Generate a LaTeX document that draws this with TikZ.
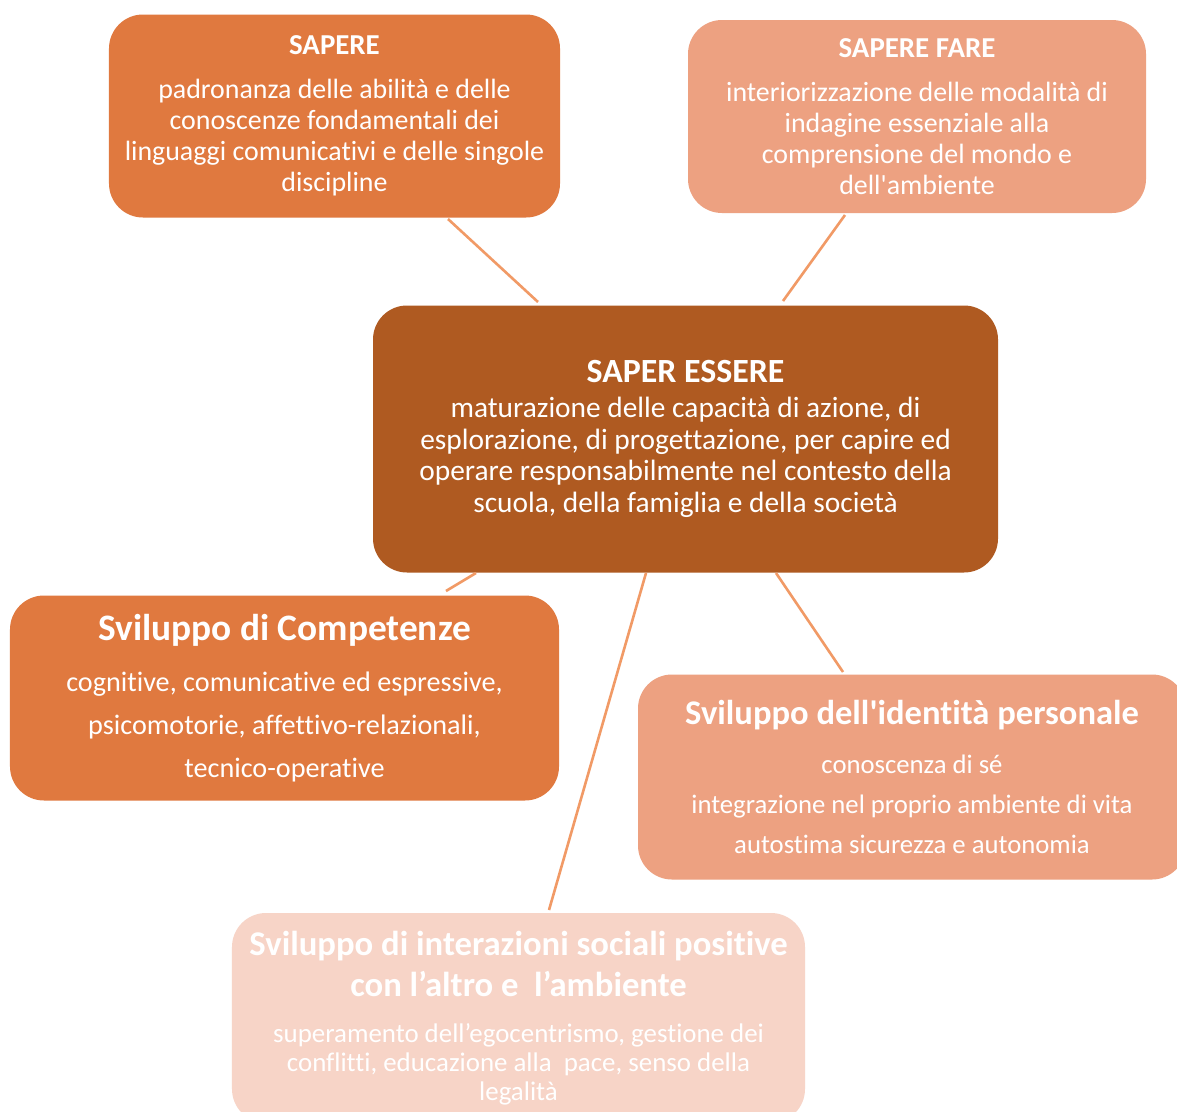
\documentclass[tikz,border=0pt]{standalone}
\usepackage{fontspec}
\setmainfont{Carlito}[Ligatures={NoCommon,TeXOff}]
\definecolor{cOrange}{HTML}{E0793F}
\definecolor{cSalmon}{HTML}{EDA181}
\definecolor{cBrown}{HTML}{AF5A21}
\definecolor{cPale}{HTML}{F7D4C7}
\definecolor{cLine}{HTML}{F19A66}
\tikzset{
  mybox/.style={rounded corners=34bp, draw=none, text=white, align=center, inner sep=0pt},
  link/.style={draw=cLine, line width=2.6bp}
}
\begin{document}
\begin{tikzpicture}[x=1bp,y=-1bp]
\clip (0,0) rectangle (1177,1112);
\fill[white] (0,0) rectangle (1177,1112);
% boxes
\node[mybox, fill=cOrange, minimum width=451bp, minimum height=203bp,
  font=\fontsize{28}{31}\selectfont] (sapere) at (334.5,116)
  {{\fontsize{29}{31}\selectfont\bfseries SAPERE}\\[13bp]
   padronanza delle abilità e delle\\
   conoscenze fondamentali dei\\
   linguaggi comunicativi e delle singole\\
   discipline};
\node[mybox, fill=cSalmon, minimum width=458bp, minimum height=193bp,
  font=\fontsize{28}{31}\selectfont] (fare) at (917,116.5)
  {{\fontsize{29}{31}\selectfont\bfseries SAPERE FARE}\\[13bp]
   interiorizzazione delle modalità di\\
   indagine essenziale alla\\
   comprensione del mondo e\\
   dell'ambiente};
\node[mybox, fill=cBrown, minimum width=625bp, minimum height=267bp,
  font=\fontsize{29.5}{32}\selectfont] (essere) at (685.5,439)
  {{\fontsize{34}{32}\selectfont\bfseries SAPER ESSERE}\\[3bp]
   maturazione delle capacità di azione, di\\
   esplorazione, di progettazione, per capire ed\\
   operare responsabilmente nel contesto della\\
   scuola, della famiglia e della società};
\node[mybox, fill=cOrange, minimum width=549bp, minimum height=205bp,
  font=\fontsize{28.3}{43}\selectfont] (comp) at (284.5,698)
  {{\fontsize{37.5}{43}\selectfont\bfseries Sviluppo di Competenze}\\[8bp]
   cognitive, comunicative ed espressive,\\
   psicomotorie, affettivo-relazionali,\\
   tecnico-operative};
\node[mybox, fill=cSalmon, minimum width=548bp, minimum height=205bp,
  font=\fontsize{26.8}{40.5}\selectfont] (ident) at (912,777)
  {{\fontsize{34.7}{40}\selectfont\bfseries Sviluppo dell'identità personale}\\[8.5bp]
   conoscenza di sé\\
   integrazione nel proprio ambiente di vita\\
   autostima sicurezza e autonomia};
\node[mybox, fill=cPale, minimum width=573bp, minimum height=210bp,
  font=\fontsize{27}{29}\selectfont] (inter) at (518.5,1018)
  {{\fontsize{34.8}{38}\selectfont\bfseries Sviluppo di interazioni sociali positive}\\[9bp]
   {\fontsize{34.8}{38}\selectfont\bfseries con l’altro e \ l’ambiente}\\[17bp]
   superamento dell’egocentrismo, gestione dei\\
   conflitti, educazione alla \ pace, senso della\\
   legalità};
% connector end points
\coordinate (s1) at (448,219); \coordinate (e1) at (538,302);
\coordinate (s2) at (845,215); \coordinate (e2) at (783,301);
\coordinate (s3) at (476,573); \coordinate (e3) at (446,591);
\coordinate (s4) at (646,573); \coordinate (e4) at (549,910);
\coordinate (s5) at (776,573); \coordinate (e5) at (843,672);
\draw[link] (s1) -- (e1);
\draw[link] (s2) -- (e2);
\draw[link] (s3) -- (e3);
\draw[link] (s4) -- (e4);
\draw[link] (s5) -- (e5);
\end{tikzpicture}
\end{document}
